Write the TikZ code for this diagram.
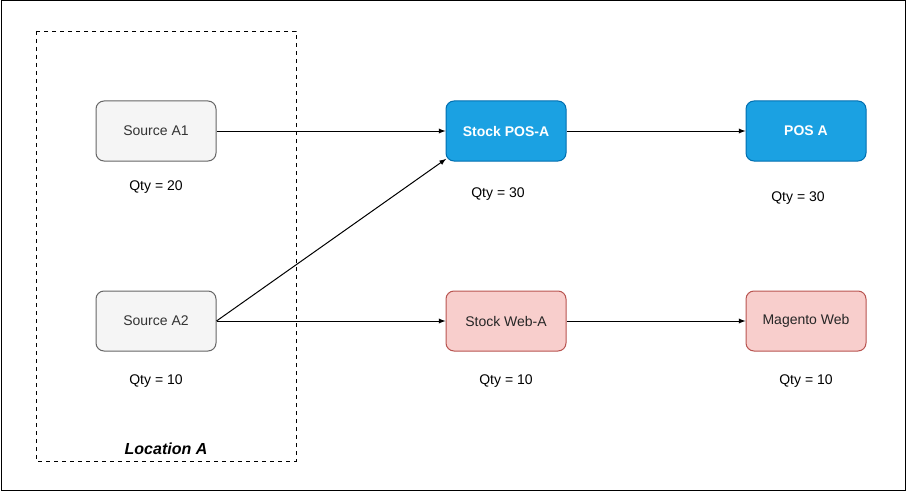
\documentclass[tikz,border=0pt]{standalone}
\usepackage{fontspec}
\setmainfont{Liberation Sans}
\usetikzlibrary{positioning}
\definecolor{grayfill}{HTML}{F5F5F5}
\definecolor{graydraw}{HTML}{666666}
\definecolor{bluefill}{HTML}{1BA1E2}
\definecolor{bluedraw}{HTML}{006EAF}
\definecolor{redfill}{HTML}{F8CECC}
\definecolor{reddraw}{HTML}{B85450}
\tikzset{box/.style={rectangle,rounded corners=6pt,minimum width=90pt,minimum height=45pt,inner sep=0pt,font=\fontsize{10.5}{12}\selectfont},
source node/.style={box,draw=graydraw,fill=grayfill,text=black!80},
pos node/.style={box,draw=bluedraw,fill=bluefill,text=white},
web node/.style={box,draw=reddraw,fill=redfill,text=black!85},
qty/.style={font=\fontsize{10.5}{12}\selectfont},
}

\begin{document}
\begin{tikzpicture}[x=0.75pt,y=-0.75pt,line width=0.75pt,>=latex]
		\useasboundingbox (0,0) rectangle (907,492);
		\draw (1,1) rectangle (905,490);
		\draw[dashed,line width=0.5pt] (36,31) rectangle (296,461);
		\node[source node] (a1) at (156,131){Source A1};
		\node[source node] (a2) at (156,321){Source A2};
		\node[pos node] (stockpos) at (506,131){\bfseries Stock POS-A};
		\node[pos node] (pos) at (806,131){\bfseries POS A};
		\node[web node] (stockweb) at (506,321){Stock Web-A};
		\node[web node] (web) at (806,321){Magento Web};
		
		\node[qty] (q1) at (156,187){Qty = 20};
		\node[qty] (q2) at (156,381){Qty = 10};
		\node[qty] (q3) at (498,194){Qty = 30};
		\node[qty] (q4) at (798,198){Qty = 30};
		\node[qty] (q5) at (506,381){Qty = 10};
		\node[qty] (q6) at (806,381){Qty = 10};
		\node[font=\fontsize{12}{14}\selectfont\bfseries\itshape] (loc) at (166,449){Location A};
		
		\draw[->] (a1) -- (stockpos);
		\draw[->] (a2.east) -- ([xshift=0.5pt,yshift=2pt]stockpos.south west);
		\draw[->] (a2) -- (stockweb);
		\draw[->] (stockpos) -- (pos);
		\draw[->] (stockweb) -- (web);
	\end{tikzpicture}
\end{document}
